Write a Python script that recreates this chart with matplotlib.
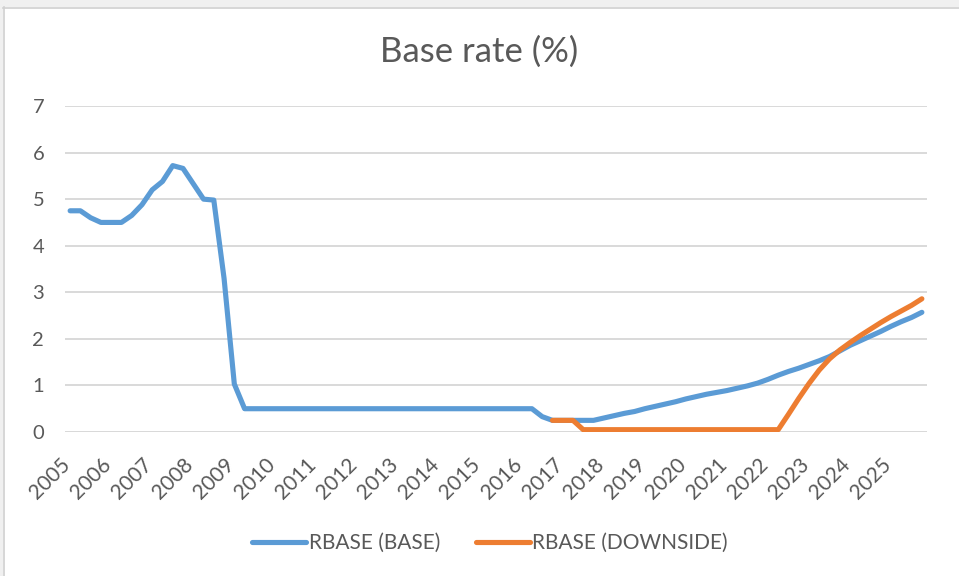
import numpy as np
import matplotlib
matplotlib.use("Agg")
import matplotlib.pyplot as plt
import matplotlib.transforms as mtransforms
from matplotlib.patches import Rectangle
from matplotlib.lines import Line2D

plt.rcParams['font.family'] = ['Lato', 'DejaVu Sans']

# ---- data (quarterly, 2005Q1 .. 2025Q4) ----
years = ['2005', '2006', '2007', '2008', '2009', '2010', '2011', '2012', '2013',
         '2014', '2015', '2016', '2017', '2018', '2019', '2020', '2021', '2022',
         '2023', '2024', '2025']

rbase_base = [
    4.75, 4.75, 4.60, 4.50,   # 2005
    4.50, 4.50, 4.65, 4.88,   # 2006
    5.20, 5.38, 5.72, 5.66,   # 2007
    5.33, 5.00, 4.98, 3.30,   # 2008
    1.03, 0.50, 0.50, 0.50,   # 2009
    0.50, 0.50, 0.50, 0.50,   # 2010
    0.50, 0.50, 0.50, 0.50,   # 2011
    0.50, 0.50, 0.50, 0.50,   # 2012
    0.50, 0.50, 0.50, 0.50,   # 2013
    0.50, 0.50, 0.50, 0.50,   # 2014
    0.50, 0.50, 0.50, 0.50,   # 2015
    0.50, 0.50, 0.33, 0.25,   # 2016
    0.25, 0.25, 0.25, 0.25,   # 2017
    0.30, 0.35, 0.40, 0.44,   # 2018
    0.50, 0.55, 0.60, 0.65,   # 2019
    0.71, 0.76, 0.81, 0.85,   # 2020
    0.89, 0.94, 0.99, 1.05,   # 2021
    1.13, 1.22, 1.30, 1.37,   # 2022
    1.45, 1.53, 1.62, 1.74,   # 2023
    1.86, 1.96, 2.06, 2.16,   # 2024
    2.27, 2.37, 2.46, 2.57,   # 2025
]

nan = np.nan
rbase_downside = [
    nan, nan, nan, nan,       # 2005
    nan, nan, nan, nan,       # 2006
    nan, nan, nan, nan,       # 2007
    nan, nan, nan, nan,       # 2008
    nan, nan, nan, nan,       # 2009
    nan, nan, nan, nan,       # 2010
    nan, nan, nan, nan,       # 2011
    nan, nan, nan, nan,       # 2012
    nan, nan, nan, nan,       # 2013
    nan, nan, nan, nan,       # 2014
    nan, nan, nan, nan,       # 2015
    nan, nan, nan, 0.25,      # 2016
    0.25, 0.25, 0.05, 0.05,   # 2017
    0.05, 0.05, 0.05, 0.05,   # 2018
    0.05, 0.05, 0.05, 0.05,   # 2019
    0.05, 0.05, 0.05, 0.05,   # 2020
    0.05, 0.05, 0.05, 0.05,   # 2021
    0.05, 0.05, 0.38, 0.72,   # 2022
    1.04, 1.33, 1.57, 1.76,   # 2023
    1.92, 2.07, 2.21, 2.35,   # 2024
    2.48, 2.60, 2.72, 2.86,   # 2025
]

series_names = ['RBASE (BASE)', 'RBASE (DOWNSIDE)']
colors = ['#5B9BD5', '#ED7D31']
text_color = '#595959'
grid_color = '#D9D9D9'

W, H = 959, 576
fig = plt.figure(figsize=(W / 100, H / 100), dpi=100)
fig.patch.set_facecolor('white')

# light gray surround and chart-area border (top / left)
fig.patches.append(Rectangle((0, 1 - 7 / H), 1, 7 / H, transform=fig.transFigure,
                             facecolor='#F0F0F0', edgecolor='none', zorder=0))
fig.patches.append(Rectangle((0, 0), 3 / W, 1, transform=fig.transFigure,
                             facecolor='#F0F0F0', edgecolor='none', zorder=0))
fig.lines.append(Line2D([3 / W, 1], [1 - 7.5 / H, 1 - 7.5 / H], transform=fig.transFigure,
                        color='#D0D0D0', lw=1.2))
fig.lines.append(Line2D([3.5 / W, 3.5 / W], [0, 1 - 7 / H], transform=fig.transFigure,
                        color='#D0D0D0', lw=1.2))

left, right = 65 / W, 927 / W
bottom, top = (H - 432) / H, (H - 106) / H
ax = fig.add_axes([left, bottom, right - left, top - bottom])

x = np.arange(len(rbase_base))
ax.plot(x, rbase_base, color=colors[0], lw=3.7, solid_capstyle='round',
        solid_joinstyle='round', label=series_names[0], zorder=3)
ax.plot(x, rbase_downside, color=colors[1], lw=3.7, solid_capstyle='round',
        solid_joinstyle='round', label=series_names[1], zorder=4)

ax.set_xlim(-0.5, len(rbase_base) - 0.5)
ax.set_ylim(0, 7)
ax.set_yticks(range(0, 8))
ax.set_yticklabels([str(v) for v in range(0, 8)])
ax.yaxis.grid(True, color=grid_color, lw=1.4)
ax.set_axisbelow(True)
for s in ax.spines.values():
    s.set_visible(False)
ax.axhline(0, color=grid_color, lw=1.4, zorder=1)

ax.set_xticks(np.arange(0, len(rbase_base), 4)[:len(years)])
ax.set_xticklabels(years, rotation=45, ha='right', va='top')
ax.tick_params(axis='x', length=0, pad=16, labelsize=15, labelcolor=text_color)
ax.tick_params(axis='y', length=0, pad=15, labelsize=14.5, labelcolor=text_color)
offset = mtransforms.ScaledTranslation(4 / 100, 0, fig.dpi_scale_trans)
for lab in ax.get_xticklabels():
    lab.set_transform(lab.get_transform() + offset)

fig.text(0.5, 1 - 52 / H, 'Base rate (%)', ha='center', va='center',
         fontsize=25, color=text_color)

leg = fig.legend(loc='center', bbox_to_anchor=(490 / W, (H - 543) / H), ncol=2,
                 frameon=False, fontsize=15, handlelength=2.6, handletextpad=0.12,
                 columnspacing=1.7, labelcolor=text_color)

fig.savefig('out.png', dpi=100, facecolor='white')
